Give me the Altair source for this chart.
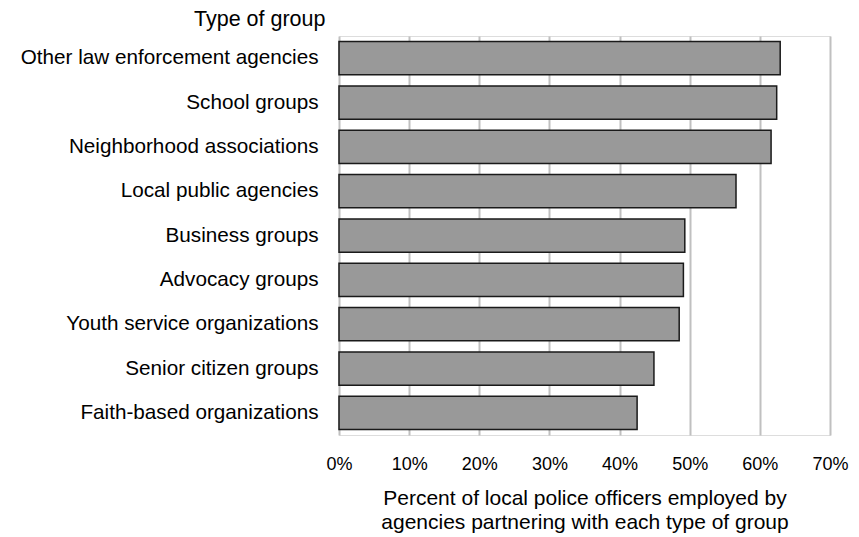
import altair as alt
import pandas as pd

groups = [
    "Other law enforcement agencies",
    "School groups",
    "Neighborhood associations",
    "Local public agencies",
    "Business groups",
    "Advocacy groups",
    "Youth service organizations",
    "Senior citizen groups",
    "Faith-based organizations",
]
values = [0.629, 0.624, 0.616, 0.566, 0.493, 0.491, 0.485, 0.449, 0.425]

df = pd.DataFrame({"group": groups, "value": values})

FONT = "Liberation Sans"

chart = (
    alt.Chart(df)
    .mark_bar(color="#999999", stroke="#1a1a1a", strokeWidth=1.5)
    .encode(
        y=alt.Y(
            "group:N",
            sort=groups,
            scale=alt.Scale(paddingInner=0.25, paddingOuter=0.125),
            axis=alt.Axis(
                title="Type of group",
                titleAngle=0,
                titleAlign="right",
                titleBaseline="alphabetic",
                titleX=-14,
                titleY=-11,
                titleFont=FONT,
                titleFontSize=21.5,
                titleFontWeight="normal",
                titleColor="#000000",
                labelFont=FONT,
                labelFontSize=20.7,
                labelColor="#000000",
                labelPadding=21,
                labelLimit=400,
                ticks=False,
                tickSize=0,
                domain=False,
                grid=False,
            ),
        ),
        x=alt.X(
            "value:Q",
            scale=alt.Scale(domain=[0, 0.7], nice=False),
            axis=alt.Axis(
                title=["Percent of local police officers employed by",
                       "agencies partnering with each type of group"],
                format=".0%",
                values=[0, 0.1, 0.2, 0.3, 0.4, 0.5, 0.6, 0.7],
                titleFont=FONT,
                titleFontSize=21,
                titleFontWeight="normal",
                titleColor="#000000",
                titleBaseline="alphabetic",
                titleY=69,
                titleLineHeight=24,
                labelFont=FONT,
                labelFontSize=18,
                labelColor="#000000",
                labelBaseline="alphabetic",
                labelPadding=34,
                labelFlush=False,
                ticks=False,
                tickSize=0,
                domain=False,
                grid=True,
                gridColor="#c0c0c0",
                gridWidth=2,
            ),
        ),
    )
    .properties(
        width=491,
        height=399,
        autosize="none",
        padding={"left": 331, "top": 28, "right": 20, "bottom": 100},
    )
    .configure_view(stroke="#bdbdbd", strokeWidth=2)
    .configure(background="white")
)

chart.save("out.html", embed_options={"renderer": "svg", "actions": False})
